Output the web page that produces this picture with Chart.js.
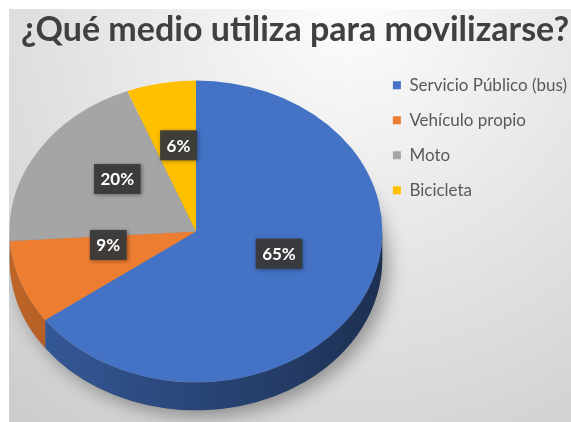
<!DOCTYPE html>
<html>
<head>
<meta charset="utf-8">
<script src="https://cdn.jsdelivr.net/npm/chart.js@4.4.1/dist/chart.umd.min.js"></script>
<style>
  html, body { margin: 0; padding: 0; background: #ffffff; overflow: hidden; }
  .chart-container { position: absolute; left: 9px; top: 9px; width: 562px; height: 413px; overflow: hidden; }
  #chart { display: block; }
</style>
</head>
<body>
<div class="chart-container"><canvas id="chart" width="568" height="413"></canvas></div>
<script>
// Datos de la encuesta
const categories = ["Servicio Público (bus)", "Vehículo propio", "Moto", "Bicicleta"];
const values = [65, 9, 20, 6];
const sliceColors = ["#4472c4", "#ed7d31", "#a5a5a5", "#ffc000"];

// oscurecer un color hex
function shade(hex, f) {
  const n = parseInt(hex.slice(1), 16);
  const r = Math.round(((n >> 16) & 255) * f);
  const g = Math.round(((n >> 8) & 255) * f);
  const b = Math.round((n & 255) * f);
  return `rgb(${r}, ${g}, ${b})`;
}

// fondo degradado gris
const background = {
  id: "background",
  beforeDraw(chart) {
    const ctx = chart.ctx;
    const grad = ctx.createRadialGradient(chart.width * 0.6, 0, 20, chart.width * 0.6, 0, 520);
    grad.addColorStop(0, "#fbfbfb");
    grad.addColorStop(1, "#cdcdcd");
    ctx.save();
    ctx.fillStyle = grad;
    ctx.fillRect(0, 0, chart.width, chart.height);
    ctx.restore();
  },
};

// pastel con efecto 3D: inclina la cara superior y dibuja el borde
const pie3d = {
  id: "pie3d",
  beforeDatasetsDraw(chart, args, opts) {
    const arcs = chart.getDatasetMeta(0).data;
    if (!arcs.length) return;
    const ctx = chart.ctx;
    const cx = arcs[0].x, cy = arcs[0].y, r = arcs[0].outerRadius;
    const tx = cx + opts.shiftX;
    const ty = cy + opts.shiftY;
    const rx = r * opts.stretch, ry = r * opts.tilt;

    // sombra
    ctx.save();
    ctx.shadowColor = "rgba(0, 0, 0, 0.35)";
    ctx.shadowBlur = 18;
    ctx.shadowOffsetX = 6;
    ctx.shadowOffsetY = 6;
    ctx.fillStyle = "#888";
    ctx.beginPath();
    ctx.ellipse(tx, ty + opts.depth, rx, ry, 0, 0, Math.PI * 2);
    ctx.fill();
    ctx.restore();

    // lados visibles (mitad frontal)
    arcs.forEach((arc, i) => {
      const s = Math.max(arc.startAngle, 0);
      const e = Math.min(arc.endAngle, Math.PI);
      if (e <= s) return;
      const grad = ctx.createLinearGradient(tx - rx, 0, tx + rx, 0);
      grad.addColorStop(0, shade(sliceColors[i], 0.8));
      grad.addColorStop(1, shade(sliceColors[i], 0.42));
      ctx.save();
      ctx.fillStyle = grad;
      ctx.beginPath();
      ctx.ellipse(tx, ty, rx, ry, 0, s, e, false);
      ctx.ellipse(tx, ty + opts.depth, rx, ry, 0, e, s, true);
      ctx.closePath();
      ctx.fill();
      ctx.restore();
    });

    // cara superior
    ctx.save();
    ctx.translate(tx, ty);
    ctx.scale(opts.stretch, opts.tilt);
    ctx.translate(-cx, -cy);
  },
  afterDatasetsDraw(chart, args, opts) {
    const arcs = chart.getDatasetMeta(0).data;
    if (!arcs.length) return;
    const ctx = chart.ctx;
    ctx.restore();

    // etiquetas de porcentaje
    const tx = arcs[0].x + opts.shiftX;
    const ty = arcs[0].y + opts.shiftY + opts.labelShift;
    ctx.save();
    ctx.font = "bold 17px Lato";
    ctx.textAlign = "center";
    ctx.textBaseline = "middle";
    arcs.forEach((arc, i) => {
      const mid = (arc.startAngle + arc.endAngle) / 2;
      const d = arc.outerRadius * opts.labelRadius;
      const x = tx + Math.cos(mid) * d * opts.stretch;
      const y = ty + Math.sin(mid) * d * opts.tilt;
      const text = values[i] + "%";
      const w = ctx.measureText(text).width + 13;
      const h = 30;
      ctx.shadowColor = "rgba(0, 0, 0, 0.4)";
      ctx.shadowBlur = 4;
      ctx.shadowOffsetX = 1;
      ctx.shadowOffsetY = 1;
      ctx.fillStyle = "rgba(58, 58, 58, 0.95)";
      ctx.fillRect(x - w / 2, y - h / 2, w, h);
      ctx.shadowColor = "transparent";
      ctx.fillStyle = "#ffffff";
      ctx.fillText(text, x, y + 1);
    });
    ctx.restore();
  },
};

const ctx = document.getElementById("chart").getContext("2d");

new Chart(ctx, {
  type: "pie",
  data: {
    labels: categories,
    datasets: [
      {
        data: values,
        backgroundColor: sliceColors,
        borderWidth: 0,
      },
    ],
  },
  options: {
    responsive: false,
    animation: false,
    layout: { padding: { left: 4, right: 0, top: 0, bottom: 0 } },
    plugins: {
      title: {
        display: true,
        text: "¿Qué medio utiliza para movilizarse?",
        color: "#404040",
        font: { family: "Lato", size: 34, weight: "bold" },
        padding: { top: 1, bottom: 8 },
      },
      legend: {
        position: "right",
        align: "start",
        fullSize: false,
        labels: {
          boxWidth: 8,
          boxHeight: 8,
          padding: 18,
          color: "#595959",
          font: { family: "Lato", size: 17 },
        },
      },
      tooltip: { enabled: false },
      pie3d: { tilt: 0.834, stretch: 1.03, depth: 28, shiftX: 2, shiftY: -9, labelRadius: 0.5, labelShift: -12 },
    },
  },
  plugins: [background, pie3d],
});
</script>
</body>
</html>
